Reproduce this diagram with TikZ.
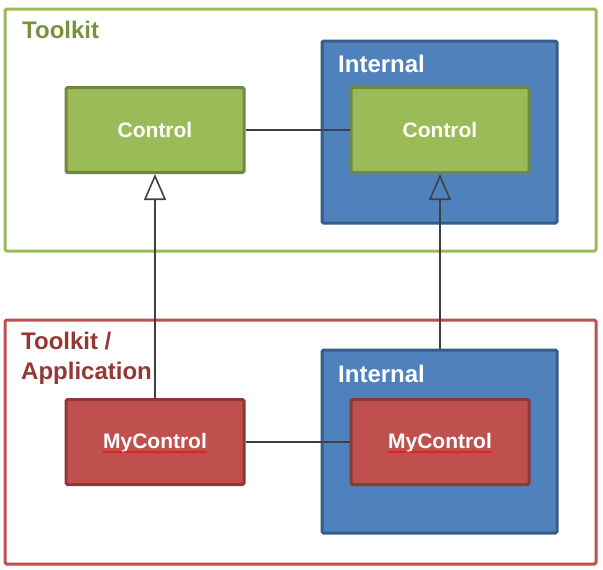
\documentclass[tikz,border=0pt]{standalone}
\usepackage{fontspec}
\setmainfont{Liberation Sans}
\usetikzlibrary{arrows.meta,decorations.pathmorphing}
\definecolor{gfill}{HTML}{9BBB59}
\definecolor{gline}{HTML}{71893F}
\definecolor{gtitle}{HTML}{76923C}
\definecolor{bfill}{HTML}{4F81BD}
\definecolor{bline}{HTML}{385D8A}
\definecolor{rfill}{HTML}{C0504D}
\definecolor{rline}{HTML}{8C3836}
\definecolor{rtitle}{HTML}{953735}
\definecolor{conn}{HTML}{404040}
\tikzset{
  outerbox/.style={draw, line width=3pt, rounded corners=1.5pt, inner sep=0pt},
  internalbox/.style={draw=bline, fill=bfill, line width=3pt, rounded corners=1.5pt, inner sep=0pt, minimum width=235pt, minimum height=182pt},
  ctlbox/.style={line width=3pt, rounded corners=1.5pt, inner sep=0pt, minimum width=178pt, minimum height=85pt},
  greenbox/.style={ctlbox, draw=gline, fill=gfill},
  redbox/.style={ctlbox, draw=rline, fill=rfill},
  boxtext/.style={text=white, font=\bfseries\fontsize{21}{25}\selectfont, inner sep=0pt},
  titletext/.style={font=\bfseries\fontsize{24}{30}\selectfont, inner sep=0pt, anchor=base west},
  connector/.style={draw=conn, line width=1.6pt},
  inherit/.style={connector, -{Triangle[open, length=26pt, width=22pt, line width=1.6pt]}},
  spell/.style={draw=red, line width=0.6pt, decorate, decoration={snake, amplitude=0.9pt, segment length=3pt}}
}
\begin{document}
\begin{tikzpicture}[x=1pt, y=-1pt]
\useasboundingbox[fill=white] (0,0) rectangle (603,570);
% outer regions
\node[outerbox, draw=gfill, minimum width=591pt, minimum height=242pt] (tk) at (300.5,130) {};
\node[outerbox, draw=rfill, minimum width=591pt, minimum height=244pt] (app) at (300.5,442) {};
% internal regions
\node[internalbox] (it) at (439.5,132) {};
\node[internalbox, minimum height=183pt] (ib) at (439.5,441.5) {};
% titles
\node[titletext, text=gtitle] (tkt) at (22,38) {Toolkit};
\node[titletext, text=white] (itt) at (338,72) {Internal};
\node[titletext, text=white] (ibt) at (338,382) {Internal};
\node[titletext, text=rtitle, align=left, anchor=north west] (appt) at (21,332) {Toolkit /\\Application};
% boxes
\node[greenbox] (c1) at (155,130) {};
\node[greenbox] (c2) at (440,130) {};
\node[redbox] (m1) at (155,442) {};
\node[redbox] (m2) at (440,442) {};
\node[boxtext] (c1t) at (c1) {Control};
\node[boxtext] (c2t) at (c2) {Control};
\node[boxtext] (m1t) at ([yshift=-1.5pt]m1.center) {MyControl};
\node[boxtext] (m2t) at ([yshift=-1.5pt]m2.center) {MyControl};
\draw[spell] ([yshift=-3pt]m1t.base west) -- ([yshift=-3pt]m1t.base east);
\draw[spell] ([yshift=-3pt]m2t.base west) -- ([yshift=-3pt]m2t.base east);
% connectors
\draw[connector] (c1.east) -- (c2.west);
\draw[connector] (m1.east) -- (m2.west);
% inheritance arrows
\draw[inherit] (m1.north) -- (c1.south);
\draw[inherit] (ib.north -| c2.south) -- (c2.south);
\end{tikzpicture}
\end{document}
